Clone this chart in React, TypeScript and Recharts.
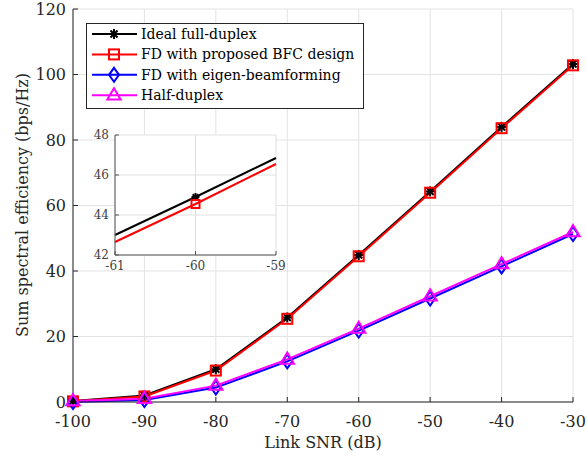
import React from "react";
import { LineChart, Line, XAxis, YAxis, CartesianGrid } from "recharts";

const FONT = "DejaVu Serif, Liberation Serif, serif";

const snr = [-100, -90, -80, -70, -60, -50, -40, -30];
const idealFD = [0.3, 2.0, 10.0, 25.8, 44.9, 64.3, 84.0, 103.2];
const proposedBFC = [0.2, 1.7, 9.6, 25.4, 44.5, 63.9, 83.6, 102.8];
const eigenBF = [0.0, 0.6, 4.4, 12.4, 21.8, 31.6, 41.4, 51.3];
const halfDuplex = [0.3, 1.0, 5.0, 13.0, 22.4, 32.3, 42.1, 51.9];

const xTicks = [-100, -90, -80, -70, -60, -50, -40, -30];
const yTicks = [0, 20, 40, 60, 80, 100, 120];

// zoomed inset around -60 dB
const insetSnr = [-61, -60, -59];
const insetIdeal = [43.0, 44.9, 46.85];
const insetProposed = [42.65, 44.55, 46.55];
const insetXTicks = [-61, -60, -59];
const insetYTicks = [42, 44, 46, 48];

const data = snr.map((x, i) => ({
  x,
  ideal: idealFD[i],
  bfc: proposedBFC[i],
  eigen: eigenBF[i],
  hd: halfDuplex[i],
}));

const insetData = insetSnr.map((x, i) => ({ x, ideal: insetIdeal[i], bfc: insetProposed[i] }));

function Star({ cx, cy, r = 5 }: { cx: number; cy: number; r?: number }) {
  const d = r * 0.707;
  return (
    <g stroke="#000" strokeWidth={2}>
      <line x1={cx - r} y1={cy} x2={cx + r} y2={cy} />
      <line x1={cx} y1={cy - r} x2={cx} y2={cy + r} />
      <line x1={cx - d} y1={cy - d} x2={cx + d} y2={cy + d} />
      <line x1={cx - d} y1={cy + d} x2={cx + d} y2={cy - d} />
    </g>
  );
}

function Square({ cx, cy, s = 10 }: { cx: number; cy: number; s?: number }) {
  return <rect x={cx - s / 2} y={cy - s / 2} width={s} height={s} fill="none" stroke="#ff0000" strokeWidth={2} />;
}

function Diamond({ cx, cy }: { cx: number; cy: number }) {
  const w = 5, h = 7;
  return (
    <path
      d={`M${cx},${cy - h} L${cx + w},${cy} L${cx},${cy + h} L${cx - w},${cy} Z`}
      fill="none"
      stroke="#0000ff"
      strokeWidth={2}
    />
  );
}

function Triangle({ cx, cy }: { cx: number; cy: number }) {
  const r = 7;
  return (
    <path
      d={`M${cx},${cy - r} L${cx + r * 0.95},${cy + r * 0.6} L${cx - r * 0.95},${cy + r * 0.6} Z`}
      fill="none"
      stroke="#ff00ff"
      strokeWidth={2}
    />
  );
}

const dotStar = (p: any) => <Star key={p.index} cx={p.cx} cy={p.cy} />;
const dotSquare = (p: any) => <Square key={p.index} cx={p.cx} cy={p.cy} />;
const dotDiamond = (p: any) => <Diamond key={p.index} cx={p.cx} cy={p.cy} />;
const dotTriangle = (p: any) => <Triangle key={p.index} cx={p.cx} cy={p.cy} />;

const insetStar = (p: any) =>
  p.payload.x === -60 ? <Star key={p.index} cx={p.cx} cy={p.cy} r={4} /> : <g key={p.index} />;
const insetSquare = (p: any) =>
  p.payload.x === -60 ? <Square key={p.index} cx={p.cx} cy={p.cy} s={8} /> : <g key={p.index} />;

const legendItems = [
  { label: "Ideal full-duplex", color: "#000", marker: "star" },
  { label: "FD with proposed BFC design", color: "#ff0000", marker: "square" },
  { label: "FD with eigen-beamforming", color: "#0000ff", marker: "diamond" },
  { label: "Half-duplex", color: "#ff00ff", marker: "triangle" },
];

const tickStyle = { fontFamily: FONT, fontSize: 16, fill: "#262626" };
const insetTickStyle = { fontFamily: FONT, fontSize: 12, fill: "#404040" };

export default function App() {
  return (
    <div style={{ position: "absolute", left: 0, top: 0, width: 587, height: 457, background: "#fff" }}>
      <LineChart width={587} height={457} data={data} margin={{ top: 9, right: 14, left: 0, bottom: 0 }}>
        <CartesianGrid stroke="#e3e3e3" strokeWidth={1} />
        <XAxis
          dataKey="x"
          type="number"
          domain={[-100, -30]}
          ticks={xTicks}
          height={55}
          tick={tickStyle}
          tickSize={-5}
          tickMargin={19}
          stroke="#262626"
        />
        <XAxis
          xAxisId="top"
          orientation="top"
          dataKey="x"
          type="number"
          domain={[-100, -30]}
          ticks={xTicks}
          height={0}
          tickSize={-5}
          tickFormatter={() => ""}
          stroke="#555"
        />
        <YAxis
          type="number"
          domain={[0, 120]}
          ticks={yTicks}
          width={73}
          tick={tickStyle}
          tickSize={-5}
          tickMargin={12}
          stroke="#262626"
        />
        <YAxis
          yAxisId="right"
          orientation="right"
          type="number"
          domain={[0, 120]}
          ticks={yTicks}
          width={0}
          tickSize={-5}
          tickFormatter={() => ""}
          stroke="#555"
        />
        <Line dataKey="ideal" stroke="#000" strokeWidth={2} dot={dotStar} isAnimationActive={false} />
        <Line dataKey="bfc" stroke="#ff0000" strokeWidth={2} dot={dotSquare} isAnimationActive={false} />
        <Line dataKey="eigen" stroke="#0000ff" strokeWidth={2} dot={dotDiamond} isAnimationActive={false} />
        <Line dataKey="hd" stroke="#ff00ff" strokeWidth={2} dot={dotTriangle} isAnimationActive={false} />
      </LineChart>

      <div style={{ position: "absolute", left: 80, top: 125 }}>
        <LineChart width={215} height={160} data={insetData} margin={{ top: 10, right: 19, left: 0, bottom: 0 }}>
          <CartesianGrid stroke="#e0e0e0" fill="#fff" />
          <XAxis
            dataKey="x"
            type="number"
            domain={[-61, -59]}
            ticks={insetXTicks}
            height={30}
            tick={insetTickStyle}
            tickSize={-4}
            tickMargin={10}
            stroke="#555"
          />
          <XAxis
            xAxisId="top"
            orientation="top"
            dataKey="x"
            type="number"
            domain={[-61, -59]}
            ticks={insetXTicks}
            height={0}
            tickSize={-4}
            tickFormatter={() => ""}
            stroke="#555"
          />
          <YAxis
            type="number"
            domain={[42, 48]}
            ticks={insetYTicks}
            width={35}
            tick={insetTickStyle}
            tickSize={-4}
            tickMargin={10}
            stroke="#555"
          />
          <YAxis
            yAxisId="right"
            orientation="right"
            type="number"
            domain={[42, 48]}
            ticks={insetYTicks}
            width={0}
            tickSize={-4}
            tickFormatter={() => ""}
            stroke="#555"
          />
          <Line dataKey="ideal" stroke="#000" strokeWidth={2} dot={insetStar} isAnimationActive={false} />
          <Line dataKey="bfc" stroke="#ff0000" strokeWidth={2} dot={insetSquare} isAnimationActive={false} />
        </LineChart>
      </div>

      <svg
        width={587}
        height={457}
        style={{ position: "absolute", left: 0, top: 0, pointerEvents: "none" }}
        fontFamily={FONT}
      >
        <text x={323} y={448} textAnchor="middle" fontSize={16} fill="#262626">
          Link SNR (dB)
        </text>
        <text
          x={0}
          y={0}
          transform="translate(28,205) rotate(-90)"
          textAnchor="middle"
          fontSize={16}
          fill="#262626"
        >
          Sum spectral efficiency (bps/Hz)
        </text>

        <rect x={86.5} y={23.5} width={277} height={85} fill="#fff" stroke="#262626" strokeWidth={1} />
        {legendItems.map((it, i) => {
          const cy = 34 + i * 20.4;
          return (
            <g key={it.label}>
              <line x1={92} y1={cy} x2={137} y2={cy} stroke={it.color} strokeWidth={2} />
              {it.marker === "star" && <Star cx={114} cy={cy} />}
              {it.marker === "square" && <Square cx={114} cy={cy} />}
              {it.marker === "diamond" && <Diamond cx={114} cy={cy} />}
              {it.marker === "triangle" && <Triangle cx={114} cy={cy} />}
              <text x={141} y={cy + 5} fontSize={14} fill="#000">
                {it.label}
              </text>
            </g>
          );
        })}
      </svg>
    </div>
  );
}
